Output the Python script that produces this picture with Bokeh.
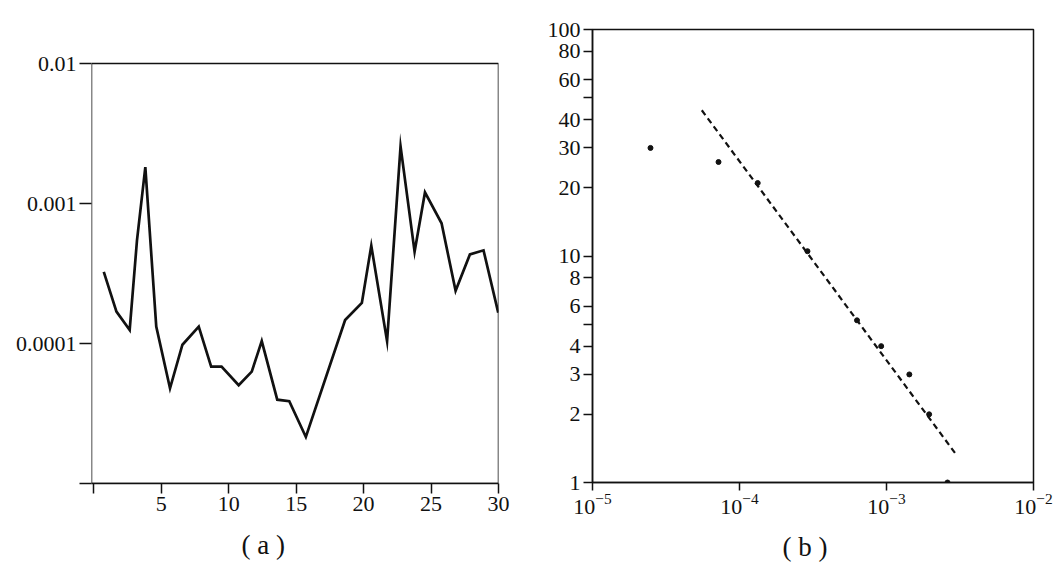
from bokeh.plotting import figure
from bokeh.layouts import row
from bokeh.models import FixedTicker, BasicTickFormatter, LogTickFormatter, Title, BoxAnnotation
from bokeh.embed import file_html
from bokeh.resources import INLINE

# ---------------- Panel (a): time series on log y ----------------
a_x = [0.74, 1.68, 2.66, 3.2, 3.82, 4.63, 5.65, 6.57, 7.78, 8.7, 9.47, 10.74,
       11.71, 12.45, 13.6, 14.49, 15.72, 18.63, 19.87, 20.57, 21.74, 22.74,
       23.78, 24.55, 25.78, 26.82, 27.88, 28.89, 29.98]
a_y = [3.25e-4, 1.69e-4, 1.25e-4, 5.43e-4, 1.82e-3, 1.32e-4, 4.79e-5, 9.8e-5,
       1.32e-4, 6.84e-5, 6.84e-5, 5.03e-5, 6.3e-5, 1.04e-4, 3.97e-5, 3.87e-5,
       2.15e-5, 1.47e-4, 1.95e-4, 4.99e-4, 1.04e-4, 2.56e-3, 4.53e-4, 1.2e-3,
       7.22e-4, 2.38e-4, 4.33e-4, 4.63e-4, 1.66e-4]
a_xticks = [0, 5, 10, 15, 20, 25, 30]
a_xlabels = ["", "5", "10", "15", "20", "25", "30"]
a_yticks = [1e-5, 1e-4, 1e-3, 1e-2]
a_ylabels = ["", "0.0001", "0.001", "0.01"]
a_caption = "( a )"

# ---------------- Panel (b): log-log scatter with fit ----------------
b_x = [2.48e-5, 7.2e-5, 1.33e-4, 2.9e-4, 6.3e-4, 9.2e-4, 1.43e-3, 1.95e-3, 2.6e-3]
b_y = [30, 26, 21, 10.5, 5.2, 4, 3, 2, 1]
fit_x = [5.54e-5, 2.95e-3]
fit_y = [44, 1.34]
b_xticks = [1e-5, 1e-4, 1e-3, 1e-2]
b_yticks = [1, 2, 3, 4, 5, 6, 8, 10, 20, 30, 40, 50, 60, 80, 100]
b_yhidden = [5, 50]
b_caption = "( b )"

FONT = "Liberation Serif"
INK = "#111111"


def style(p):
    p.grid.visible = False
    p.outline_line_color = INK
    p.outline_line_width = 1.5
    p.outline_line_alpha = 1.0
    p.background_fill_color = "white"
    p.border_fill_color = "white"
    for ax in p.axis:
        ax.axis_line_color = INK
        ax.axis_line_width = 1.5
        ax.major_tick_line_color = INK
        ax.major_tick_line_width = 1.5
        ax.major_tick_in = 0
        ax.minor_tick_line_color = None
        ax.major_label_text_font = FONT
        ax.major_label_text_font_size = "22px"
        ax.major_label_text_color = INK
        ax.major_label_standoff = 3


def caption(text, offset, standoff):
    return Title(text=text, align="left", offset=offset, standoff=standoff,
                 text_font=FONT, text_font_size="27px", text_font_style="normal",
                 text_color=INK)


# Panel (a): its frame shares the top edge of panel (b); the visible box is drawn
# as an annotation spanning the panel's own value range.
a_xlim = (-0.17, 30)
a_ylim = (1e-5, 10 ** -1.757)
p1 = figure(frame_width=407, frame_height=454,
            x_range=a_xlim, y_range=a_ylim, y_axis_type="log",
            min_border_left=91, min_border_right=30, min_border_top=29,
            min_border_bottom=95, output_backend="svg", toolbar_location=None)
p1.line(a_x, a_y, line_color=INK, line_width=2.7, line_join="miter")
style(p1)
p1.outline_line_color = None
p1.yaxis.axis_line_color = None
p1.add_layout(BoxAnnotation(left=a_xlim[0], right=a_xlim[1],
                            bottom=a_yticks[0], top=a_yticks[-1],
                            fill_alpha=0, line_color=INK, line_width=1.5,
                            line_alpha=1.0))
p1.xaxis.ticker = FixedTicker(ticks=a_xticks)
p1.xaxis.formatter = BasicTickFormatter()
p1.xaxis.major_label_overrides = {t: l for t, l in zip(a_xticks, a_xlabels)}
p1.xaxis.major_tick_out = 10
p1.yaxis.ticker = FixedTicker(ticks=a_yticks)
p1.yaxis.formatter = BasicTickFormatter()
p1.yaxis.major_label_overrides = {t: l for t, l in zip(a_yticks, a_ylabels)}
p1.yaxis.major_tick_out = 12
p1.add_layout(caption(a_caption, 150, 29), "below")

# Panel (b)
p2 = figure(frame_width=441, frame_height=453,
            x_axis_type="log", y_axis_type="log",
            x_range=(1e-5, 1e-2), y_range=(1, 100),
            min_border_left=64, min_border_right=20, min_border_top=29,
            min_border_bottom=96, output_backend="svg", toolbar_location=None)
p2.line(fit_x, fit_y, line_color=INK, line_width=2.2, line_dash="6 4")
p2.scatter(b_x, b_y, size=5, color=INK)
style(p2)
p2.xaxis.ticker = FixedTicker(ticks=b_xticks)
p2.xaxis.formatter = LogTickFormatter()
p2.xaxis.major_tick_out = 8
p2.yaxis.ticker = FixedTicker(ticks=b_yticks)
p2.yaxis.formatter = BasicTickFormatter()
p2.yaxis.major_label_overrides = {t: "" for t in b_yhidden}
p2.yaxis.major_tick_out = 9
p2.add_layout(caption(b_caption, 190, 26), "below")

layout = row(p1, p2)
open("out.html", "w").write(file_html(layout, INLINE))
